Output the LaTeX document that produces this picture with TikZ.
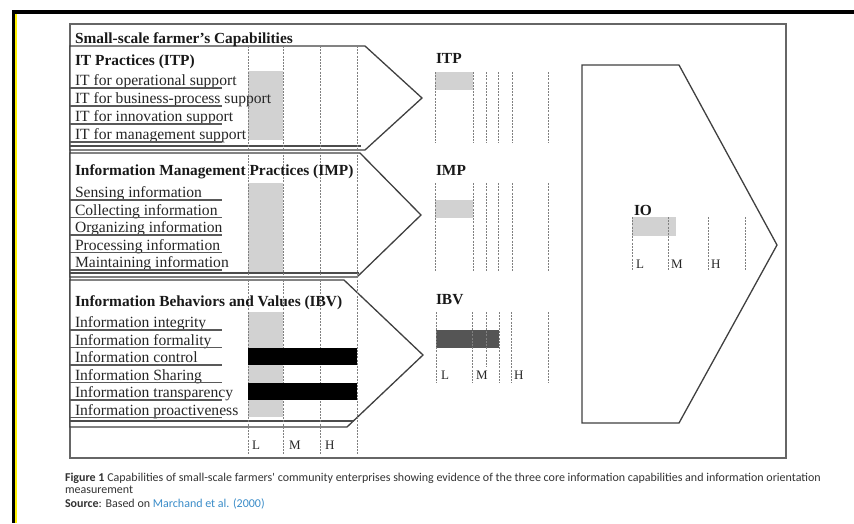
\documentclass[tikz,border=0pt]{standalone}
\usepackage{fontspec}
\setmainfont{Liberation Serif}
\newfontfamily\capfont{Carlito}
\definecolor{fillgray}{HTML}{D2D2D2}
\definecolor{darkbar}{HTML}{555555}
\definecolor{linkblue}{HTML}{3A8CC8}
\definecolor{frameyellow}{HTML}{FFF200}
\begin{document}
\begin{tikzpicture}[x=1pt,y=-1pt,
  every node/.style={inner sep=0pt, outer sep=0pt},
  txt/.style={anchor=base west, font=\fontsize{15.6}{15.6}\selectfont, text=black!85},
  hd/.style={anchor=base west, font=\fontsize{15.4}{15.4}\selectfont\bfseries, text=black!90},
  lmh/.style={anchor=base west, font=\fontsize{13}{13}\selectfont, text=black!85},
  dashv/.style={draw=black!50, line width=0.9pt, dash pattern=on 2pt off 1.2pt},
  chev/.style={draw=black!75, line width=1.3pt, fill=white, line join=miter},
  uline/.style={draw=black!65, line width=1.4pt},
  inline/.style={draw=black!70, line width=1.2pt},
  gfill/.style={fill=fillgray, draw=none},
  bfill/.style={fill=black, draw=none},
  dfill/.style={fill=darkbar, draw=none},
  capt/.style={anchor=base west, font=\capfont\fontsize{12}{12}\selectfont, text=black!80}
]
\useasboundingbox (0,0) rectangle (854,523);
% page frame
\fill[frameyellow] (15,14) rectangle (17,523);
\fill[black] (12,10) rectangle (854,13.5);
\fill[black] (12,10) rectangle (15,523);

% outer box
\draw[draw=black!60, line width=1.4pt] (70,24) rectangle (786,458);

% chevrons
\draw[chev] (70,46) -- (365,46) -- (422,98) -- (365,150) -- (70,150) -- cycle;
\draw[chev] (70,153) -- (360,153) -- (421,215) -- (357,277) -- (70,277) -- cycle;
\draw[chev] (70,280) -- (344,280) -- (423,355) -- (347,427) -- (70,427) -- cycle;

% inner bottom lines
\draw[inline] (70,146) -- (361,146);
\draw[inline] (70,273) -- (359,273);
\draw[inline] (70,421) -- (353,421);

% gray fills (left)
\fill[gfill] (248,71) rectangle (283,140);
\fill[gfill] (248,183) rectangle (283,272);
\fill[gfill] (248,312) rectangle (283,417);

% dashed columns (left)
\foreach \xx in {248,283,320,357} \draw[dashv] (\xx,46) -- (\xx,455);

% black bars
\fill[bfill] (248,348) rectangle (357,365);
\fill[bfill] (248,383) rectangle (357,400);

% headings
\node[hd] (title) at (75,43.5) {Small-scale farmer's Capabilities};
\node[hd] (itph) at (75,65) {IT Practices (ITP)};
\node[hd] (imph) at (75,175) {Information Management Practices (IMP)};
\node[hd] (ibvh) at (75,306) {Information Behaviors and Values (IBV)};

% ITP items
\node[txt] (itp1) at (75,85.5) {IT for operational support};
\node[txt] (itp2) at (75,103.5) {IT for business-process support};
\node[txt] (itp3) at (75,121.5) {IT for innovation support};
\node[txt] (itp4) at (75,139.5) {IT for management support};
\foreach \yy in {88,106,124,142} \draw[uline] (70,\yy) -- (222,\yy);

% IMP items
\node[txt] (imp1) at (75,197.5) {Sensing information};
\node[txt] (imp2) at (75,215) {Collecting information};
\node[txt] (imp3) at (75,232.5) {Organizing information};
\node[txt] (imp4) at (75,250) {Processing information};
\node[txt] (imp5) at (75,267.5) {Maintaining information};
\foreach \yy in {200,217.5,235,252.5,270} \draw[uline] (70,\yy) -- (222,\yy);

% IBV items
\node[txt] (ibv1) at (75,327.5) {Information integrity};
\node[txt] (ibv2) at (75,345) {Information formality};
\node[txt] (ibv3) at (75,362.5) {Information control};
\node[txt] (ibv4) at (75,380) {Information Sharing};
\node[txt] (ibv5) at (75,397.5) {Information transparency};
\node[txt] (ibv6) at (75,415) {Information proactiveness};
\foreach \yy in {330,347.5,365,382.5,400,417.5} \draw[uline] (70,\yy) -- (222,\yy);

% bottom L M H
\node[lmh] (bl) at (252,449) {L};
\node[lmh] (bm) at (289,449) {M};
\node[lmh] (bh) at (325,449) {H};

% right ITP
\node[hd] (ritp) at (436,63) {ITP};
\fill[gfill] (435,72) rectangle (473,90);
\foreach \xx in {435,473,486,498,512,548} \draw[dashv] (\xx,72) -- (\xx,143);

% right IMP
\node[hd] (rimp) at (436,175) {IMP};
\fill[gfill] (435,200) rectangle (473,218);
\foreach \xx in {435,473,486,498,512,548} \draw[dashv] (\xx,183) -- (\xx,272);

% right IBV
\node[hd] (ribv) at (436,304) {IBV};
\fill[dfill] (436,330) rectangle (499,348);
\foreach \xx in {436,472,499,511,548} \draw[dashv] (\xx,312) -- (\xx,383);
\draw[dashv] (486,312) -- (486,367);
\node[lmh] (rl) at (441,379) {L};
\node[lmh] (rm) at (476,379) {M};
\node[lmh] (rh) at (514,379) {H};

% IO pentagon
\draw[chev] (582,65) -- (679,65) -- (777,245) -- (679,423) -- (582,423) -- cycle;
\node[hd] (io) at (634,215) {IO};
\fill[gfill] (632,217) rectangle (676,236);
\foreach \xx in {632,668,708,745} \draw[dashv] (\xx,217) -- (\xx,270);
\node[lmh] (iol) at (636,268) {L};
\node[lmh] (iom) at (671,268) {M};
\node[lmh] (ioh) at (711,268) {H};

% caption
\node[capt] (cap1) at (65,481) {\textbf{Figure 1} Capabilities of small-scale farmers' community enterprises showing evidence of the three core information capabilities and information orientation};
\node[capt] (cap2) at (65,493) {measurement};
\node[capt] (cap3) at (65,507) {\textbf{Source}: Based on \textcolor{linkblue}{Marchand et al. (2000)}};
\end{tikzpicture}
\end{document}
